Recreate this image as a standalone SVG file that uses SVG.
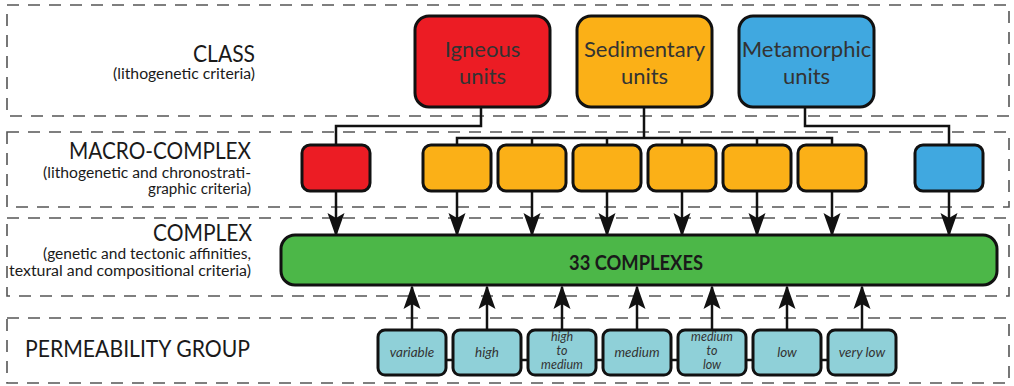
<svg xmlns="http://www.w3.org/2000/svg" width="1014" height="386" viewBox="0 0 1014 386">
<style>
.band{fill:none;stroke:#555;stroke-width:1.6;stroke-dasharray:12 9}
.box{stroke:#111;stroke-width:3}
.red{fill:#ec1c24}.org{fill:#fbb017}.blu{fill:#40a8e0}.grn{fill:#4cb748}.prm{fill:#8fd0d8}
.conn{fill:none;stroke:#111;stroke-width:2.5}
.title{font-family:Lato,'Open Sans',sans-serif;font-size:24px;fill:#1a1a1a;text-anchor:end}
.sub{font-family:Lato,'Open Sans',sans-serif;font-size:15.5px;fill:#1a1a1a;text-anchor:end}
.cls{font-family:Lato,'Open Sans',sans-serif;font-size:22px;fill:#333;text-anchor:middle}
.big{font-family:Lato,'Open Sans',sans-serif;font-size:20px;font-weight:bold;fill:#1a1a1a;text-anchor:middle}
.pt{font-family:Lato,'Open Sans',sans-serif;font-size:13.5px;font-style:italic;fill:#333;text-anchor:middle}
.pt3{font-family:Lato,'Open Sans',sans-serif;font-size:12.5px;font-style:italic;fill:#333;text-anchor:middle}
</style>
<defs>
<marker id="ah" viewBox="-1 -10 27 20" refX="22" refY="0" markerWidth="27" markerHeight="20" markerUnits="userSpaceOnUse" orient="auto">
<path d="M0,-8.5 L24,0 L0,8.5 L5,0 Z" fill="#111"/>
</marker>
</defs>
<g id="bands">
<rect class="band" x="7" y="5" width="1002" height="111"/>
<rect class="band" x="7" y="132" width="1002" height="75"/>
<rect class="band" x="7" y="218" width="1002" height="78"/>
<rect class="band" x="7" y="318" width="1002" height="65"/>
</g>
<g id="labels">
<text class="title" x="255" y="62" textLength="62" lengthAdjust="spacingAndGlyphs">CLASS</text>
<text class="sub" x="255" y="79" textLength="142" lengthAdjust="spacingAndGlyphs">(lithogenetic criteria)</text>
<text class="title" x="251" y="159" textLength="182" lengthAdjust="spacingAndGlyphs">MACRO-COMPLEX</text>
<text class="sub" x="251" y="178" textLength="208" lengthAdjust="spacingAndGlyphs">(lithogenetic and chronostrati-</text>
<text class="sub" x="251" y="194" textLength="103" lengthAdjust="spacingAndGlyphs">graphic criteria)</text>
<text class="title" x="252" y="241" textLength="99" lengthAdjust="spacingAndGlyphs">COMPLEX</text>
<text class="sub" x="251" y="259" textLength="208" lengthAdjust="spacingAndGlyphs">(genetic and tectonic affinities,</text>
<text class="sub" x="251" y="276" textLength="242" lengthAdjust="spacingAndGlyphs">textural and compositional criteria)</text>
<text class="title" x="250" y="357" textLength="225" lengthAdjust="spacingAndGlyphs">PERMEABILITY GROUP</text>
</g>
<g id="connectors">
<path class="conn" d="M481,107 V126 H336 V145"/>
<path class="conn" d="M805,107 V126 H949 V145"/>
<path class="conn" d="M644,107 V138"/>
<path class="conn" d="M457,145 V138 H832 V145 M532,138 V145 M607,138 V145 M682,138 V145 M757,138 V145"/>
<path class="conn" d="M412,360 H862"/>
<g marker-end="url(#ah)">
<line class="conn" x1="336" y1="191" x2="336" y2="235"/>
<line class="conn" x1="457" y1="191" x2="457" y2="235"/>
<line class="conn" x1="532" y1="191" x2="532" y2="235"/>
<line class="conn" x1="607" y1="191" x2="607" y2="235"/>
<line class="conn" x1="682" y1="191" x2="682" y2="235"/>
<line class="conn" x1="757" y1="191" x2="757" y2="235"/>
<line class="conn" x1="832" y1="191" x2="832" y2="235"/>
<line class="conn" x1="949" y1="191" x2="949" y2="235"/>
<line class="conn" x1="412" y1="330" x2="412" y2="287"/>
<line class="conn" x1="487" y1="330" x2="487" y2="287"/>
<line class="conn" x1="562" y1="330" x2="562" y2="287"/>
<line class="conn" x1="637" y1="330" x2="637" y2="287"/>
<line class="conn" x1="712" y1="330" x2="712" y2="287"/>
<line class="conn" x1="787" y1="330" x2="787" y2="287"/>
<line class="conn" x1="862" y1="330" x2="862" y2="287"/>
</g>
</g>
<g id="igneous"><rect class="box red" x="415" y="16" width="135" height="91" rx="14"/><text class="cls" x="482.5" y="57">Igneous</text><text class="cls" x="482.5" y="84">units</text></g>
<g id="sedimentary"><rect class="box org" x="577" y="16" width="135" height="91" rx="14"/><text class="cls" x="644.5" y="57">Sedimentary</text><text class="cls" x="644.5" y="84">units</text></g>
<g id="metamorphic"><rect class="box blu" x="739" y="16" width="135" height="91" rx="14"/><text class="cls" x="806.5" y="57">Metamorphic</text><text class="cls" x="806.5" y="84">units</text></g>
<g id="mc-red"><rect class="box red" x="302" y="145" width="68" height="46" rx="8"/></g>
<g id="mc-org1"><rect class="box org" x="423" y="145" width="68" height="46" rx="8"/></g>
<g id="mc-org2"><rect class="box org" x="498" y="145" width="68" height="46" rx="8"/></g>
<g id="mc-org3"><rect class="box org" x="573" y="145" width="68" height="46" rx="8"/></g>
<g id="mc-org4"><rect class="box org" x="648" y="145" width="68" height="46" rx="8"/></g>
<g id="mc-org5"><rect class="box org" x="723" y="145" width="68" height="46" rx="8"/></g>
<g id="mc-org6"><rect class="box org" x="798" y="145" width="68" height="46" rx="8"/></g>
<g id="mc-blue"><rect class="box blu" x="915" y="145" width="68" height="46" rx="8"/></g>
<g id="complexes"><rect class="box grn" x="281" y="235" width="716" height="50" rx="14"/><text class="big" x="636" y="270" textLength="134" lengthAdjust="spacingAndGlyphs">33 COMPLEXES</text></g>
<g id="p-variable"><rect class="box prm" x="378" y="330" width="68" height="45" rx="7"/><text class="pt" x="412" y="357">variable</text></g>
<g id="p-high"><rect class="box prm" x="453" y="330" width="68" height="45" rx="7"/><text class="pt" x="487" y="357">high</text></g>
<g id="p-high-medium"><rect class="box prm" x="528" y="330" width="68" height="45" rx="7"/><text class="pt3" x="562" y="341">high</text><text class="pt3" x="562" y="355">to</text><text class="pt3" x="562" y="369">medium</text></g>
<g id="p-medium"><rect class="box prm" x="603" y="330" width="68" height="45" rx="7"/><text class="pt" x="637" y="357">medium</text></g>
<g id="p-medium-low"><rect class="box prm" x="678" y="330" width="68" height="45" rx="7"/><text class="pt3" x="712" y="341">medium</text><text class="pt3" x="712" y="355">to</text><text class="pt3" x="712" y="369">low</text></g>
<g id="p-low"><rect class="box prm" x="753" y="330" width="68" height="45" rx="7"/><text class="pt" x="787" y="357">low</text></g>
<g id="p-verylow"><rect class="box prm" x="828" y="330" width="68" height="45" rx="7"/><text class="pt" x="862" y="357">very low</text></g>
</svg>
